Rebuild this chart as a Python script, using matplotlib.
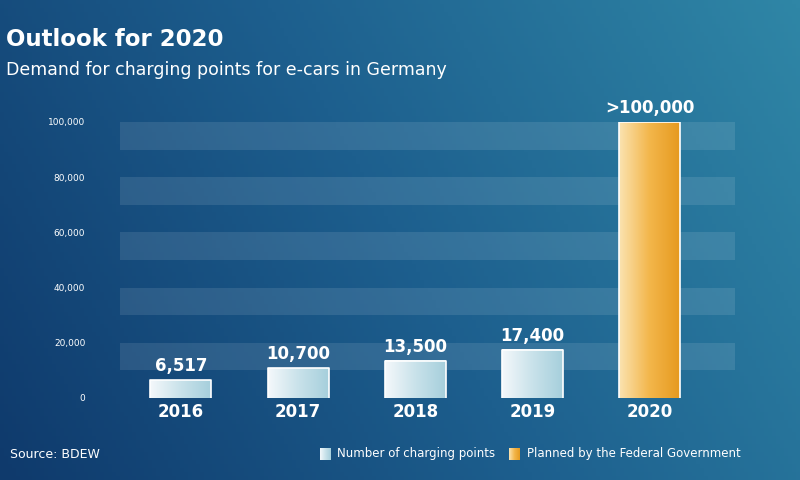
import numpy as np
import matplotlib.pyplot as plt
from matplotlib.colors import LinearSegmentedColormap

years = ["2016", "2017", "2018", "2019", "2020"]
values = [6517, 10700, 13500, 17400, 100000]
labels = ["6,517", "10,700", "13,500", "17,400", ">100,000"]
yticks = [0, 20000, 40000, 60000, 80000, 100000]
ytick_labels = ["0", "20,000", "40,000", "60,000", "80,000", "100,000"]

fig = plt.figure(figsize=(8, 4.8), dpi=100)

# background gradient
bg = fig.add_axes([0, 0, 1, 1])
bg_cmap = LinearSegmentedColormap.from_list("bg", ["#0f3a6c", "#1d5f8e", "#2f86a6"])
xx, yy = np.meshgrid(np.linspace(0, 1, 200), np.linspace(0, 1, 120))
bg.imshow(0.75 * xx + 0.25 * (1 - yy), cmap=bg_cmap, aspect="auto", extent=[0, 1, 0, 1])
bg.axis("off")

fig.text(0.008, 0.905, "Outlook for 2020", color="white", fontsize=16.5, fontweight="bold")
fig.text(0.008, 0.843, "Demand for charging points for e-cars in Germany", color="white", fontsize=12.5)

ax = fig.add_axes([0.15, 0.171, 0.769, 0.575])
ax.set_facecolor("none")

for lo in range(10000, 100001, 20000):
    ax.axhspan(lo, lo + 10000, color="white", alpha=0.1, lw=0)

blue_cmap = LinearSegmentedColormap.from_list("b", ["#f4f8fb", "#c9e2ea", "#a6cfdc"])
orange_cmap = LinearSegmentedColormap.from_list("o", ["#fbe3b0", "#f3b64b", "#e69a1f"])
grad = np.linspace(0, 1, 100).reshape(1, -1)
w = 0.26
for i, (v, lab) in enumerate(zip(values, labels)):
    cm = orange_cmap if i == 4 else blue_cmap
    ax.imshow(grad, cmap=cm, aspect="auto", extent=[i - w, i + w, 0, v], zorder=2)
    ax.plot([i - w, i - w, i + w, i + w], [0, v, v, 0], color="white", lw=1.2, zorder=3)
    ax.text(i, v + 1800, lab, ha="center", va="bottom", color="white",
            fontsize=12, fontweight="bold", clip_on=False)
ax.set_xlim(-0.52, 4.73)
ax.set_ylim(0, 100000)

ax.set_yticks(yticks)
ax.set_yticklabels(ytick_labels, color="white", fontsize=6.5)
ax.set_xticks(range(len(years)))
ax.set_xticklabels(years, color="white", fontsize=12, fontweight="bold")
ax.tick_params(length=0, axis="y", pad=25)
ax.tick_params(length=0, axis="x", pad=4)
for s in ax.spines.values():
    s.set_visible(False)

fig.text(0.012, 0.045, "Source: BDEW", color="white", fontsize=9)
lax = fig.add_axes([0, 0, 1, 1])
lax.axis("off")
lax.imshow(grad, cmap=blue_cmap, aspect="auto", extent=[320, 331, 460, 448])
lax.imshow(grad, cmap=orange_cmap, aspect="auto", extent=[509, 520, 460, 448])
lax.text(337, 454, "Number of charging points", color="white", fontsize=8.5, va="center")
lax.text(527, 454, "Planned by the Federal Government", color="white", fontsize=8.5, va="center")
lax.set_xlim(0, 800)
lax.set_ylim(480, 0)

fig.savefig("out.png", dpi=100)
